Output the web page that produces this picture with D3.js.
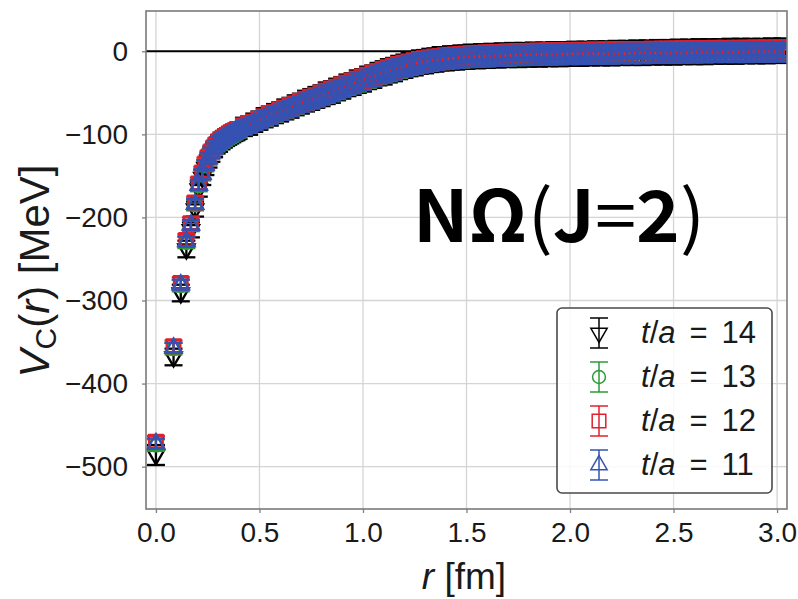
<!DOCTYPE html>
<html>
<head>
<meta charset="utf-8">
<script src="https://cdn.jsdelivr.net/npm/d3@7/dist/d3.min.js"></script>
<style>
  body { margin: 0; background: #ffffff; }
  svg { display: block; }
</style>
</head>
<body>
<svg id="chart" width="798" height="599"></svg>
<script>
// Central potential V_C(r) of the N-Omega system (J=2), four sink times t/a.

// Radial distances r [fm], shared by all sink times
const rValues = [
  0, 0.085, 0.120, 0.147, 0.169, 0.189, 0.207, 0.224, 0.239, 0.254,
  0.268, 0.281, 0.293, 0.305, 0.317, 0.328, 0.339, 0.349, 0.359, 0.369,
  0.379, 0.389, 0.399,
  0.425, 0.45, 0.475, 0.5, 0.525, 0.55, 0.575, 0.6, 0.625, 0.65,
  0.675, 0.7, 0.725, 0.75, 0.775, 0.8, 0.825, 0.85, 0.875, 0.9,
  0.925, 0.95, 0.975, 1.0, 1.025, 1.05, 1.075, 1.1, 1.125, 1.15,
  1.175, 1.2, 1.225, 1.25, 1.275, 1.3, 1.325, 1.35, 1.375, 1.4,
  1.425, 1.45, 1.475, 1.5, 1.525, 1.55, 1.575, 1.6, 1.625, 1.65,
  1.675, 1.7, 1.725, 1.75, 1.775, 1.8, 1.825, 1.85, 1.875, 1.9,
  1.925, 1.95, 1.975, 2.0, 2.025, 2.05, 2.075, 2.1, 2.125, 2.15,
  2.175, 2.2, 2.225, 2.25, 2.275, 2.3, 2.325, 2.35, 2.375, 2.4,
  2.425, 2.45, 2.475, 2.5, 2.525, 2.55, 2.575, 2.6, 2.625, 2.65,
  2.675, 2.7, 2.725, 2.75, 2.775, 2.8, 2.825, 2.85, 2.875, 2.9,
  2.925, 2.95, 2.975, 3.0, 3.025, 3.05
];

// t/a = 14
const vT14 = [
  -486, -368, -291, -238, -215, -190, -166, -152, -140, -131,
  -124, -118.5, -114, -111, -108, -106, -104, -102.5, -101, -99.5,
  -98, -97, -95.5,
  -91, -89.5, -86, -83.5, -80, -78, -75, -73, -70, -68,
  -65, -63, -60, -58, -55.5, -53.5, -50.5, -49, -46, -44,
  -41, -39.5, -36.5, -35, -32, -30.5, -27.5, -26, -23.5, -22,
  -19.5, -18, -16, -15, -13, -12.5, -11, -10.5, -9, -9,
  -8, -8, -7, -7, -6, -6.5, -5.5, -6, -5, -5.5,
  -4.5, -5, -4, -5, -4, -4.5, -3.5, -4.5, -3.5, -4,
  -3, -4, -3, -3.5, -2.5, -3.5, -2.5, -3, -2, -3,
  -2, -3, -1.5, -2.5, -1.5, -2.5, -1, -2.5, -1, -2,
  -0.5, -2, -0.5, -2, 0, -1.5, 0, -1.5, 0.5, -1.5,
  0.5, -1, 0.5, -1, 1, -1, 1, -0.5, 1, -0.5,
  1, -0.5, 1.5, 0, 1.5, 0
];
const eT14 = [
  12, 10, 10, 10, 9, 9, 9, 9, 9, 9,
  9, 9, 9, 10, 10, 10, 10, 10, 10, 10,
  10, 10, 10,
  11, 11, 11, 11, 11.5, 11.5, 11.5, 11.5, 12, 12,
  12, 12, 12.5, 12.5, 12.5, 12.5, 13, 13, 13, 13,
  13, 13, 13.5, 13.5, 13.5, 13.5, 13.5, 14, 14, 14,
  14, 14, 14, 14, 14, 14, 14, 14, 14, 14,
  14, 14, 14, 14, 14, 14, 14, 14, 14, 14,
  14, 14, 14, 14, 14, 14, 14, 14, 14, 14,
  14, 14, 14, 14, 14, 14, 14, 14, 14, 14,
  14, 14, 14, 14, 14, 14, 14, 14, 14, 14,
  14, 14, 14, 14, 14, 14, 14, 14, 14, 14,
  14, 14, 14, 14, 14, 14, 14, 14, 14, 14,
  14, 14, 14, 14, 14, 14
];

// t/a = 13
const vT13 = [
  -474, -358, -282, -230, -210, -185, -162, -149, -138, -130,
  -123, -118, -114, -111, -108.5, -106.5, -104.5, -103, -101.5, -100,
  -98.5, -97, -96,
  -91.5, -89, -86.5, -84, -81, -78.5, -76, -73.5, -71, -68.5,
  -66, -63.5, -61, -58.5, -56.5, -54, -51.5, -49.5, -47, -44.5,
  -42, -40, -37.5, -35.5, -33, -31, -28.5, -26.5, -24.5, -22.5,
  -20.5, -18.5, -17, -15.5, -14, -13, -12, -11, -10, -9.5,
  -9, -8.5, -8, -7.5, -7, -7, -6.5, -6.5, -6, -6,
  -5.5, -5.5, -5, -5, -5, -4.5, -4.5, -4.5, -4, -4,
  -4, -4, -3.5, -3.5, -3.5, -3.5, -3, -3, -3, -3,
  -3, -2.5, -2.5, -2.5, -2.5, -2.5, -2, -2, -2, -2,
  -2, -2, -1.5, -1.5, -1.5, -1.5, -1.5, -1.5, -1, -1,
  -1, -1, -1, -1, -1, -1, -0.5, -0.5, -0.5, -0.5,
  -0.5, -0.5, 0, 0, 0, 0
];
const eT13 = [
  7, 7, 7, 7, 6.5, 6.5, 6.5, 6.5, 6.5, 6.5,
  6.5, 6.5, 6.5, 7.5, 7.5, 7.5, 7.5, 7.5, 7.5, 7.5,
  7.5, 7.5, 7.5,
  8.5, 8.5, 8.5, 8.5, 9, 9, 9, 9, 9.5, 9.5,
  9.5, 9.5, 10, 10, 10, 10, 10.5, 10.5, 10.5, 10.5,
  10.5, 10.5, 11, 11, 11, 11, 11, 11.5, 11.5, 11.5,
  11.5, 11.5, 11.5, 11.5, 11.5, 11.5, 11.5, 11.5, 11.5, 11.5,
  11.5, 11.5, 11.5, 11.5, 11.5, 11.5, 11.5, 11.5, 11.5, 11.5,
  11.5, 11.5, 11.5, 11.5, 11.5, 11.5, 11.5, 11.5, 11.5, 11.5,
  11.5, 11.5, 11.5, 11.5, 11.5, 11.5, 11.5, 11.5, 11.5, 11.5,
  11.5, 11.5, 11.5, 11.5, 11.5, 11.5, 11.5, 11.5, 11.5, 11.5,
  11.5, 11.5, 11.5, 11.5, 11.5, 11.5, 11.5, 11.5, 11.5, 11.5,
  11.5, 11.5, 11.5, 11.5, 11.5, 11.5, 11.5, 11.5, 11.5, 11.5,
  11.5, 11.5, 11.5, 11.5, 11.5, 11.5
];

// t/a = 12
const vT12 = [
  -470, -355, -279, -227, -207, -182, -159, -146, -135, -127,
  -120.5, -115.5, -111.5, -108.5, -106, -104, -102, -100.5, -99, -97.5,
  -96, -95, -93.5,
  -90, -88, -85.5, -82, -79.5, -76.5, -74.5, -71.5, -69.5, -66.5,
  -64.5, -61.5, -59.5, -57, -55, -52, -50, -47.5, -45.5, -42.5,
  -40.5, -38, -36, -33.5, -31.5, -29, -27, -25, -23, -21,
  -19, -17.5, -16, -14.5, -13, -12, -11, -10, -9.5, -8.5,
  -8, -7.5, -7, -6.5, -6, -6, -5.5, -5, -5, -4.5,
  -4.5, -4, -4, -3.5, -3.5, -3.5, -3, -3, -3, -2.5,
  -2.5, -2.5, -2.5, -2, -2.5, -2, -2, -2, -1.5, -2,
  -1.5, -1.5, -1.5, -1, -1.5, -1, -1, -1, -1, -0.5,
  -1, -0.5, -0.5, -0.5, -0.5, 0, -0.5, 0, 0, 0,
  0, 0.5, 0, 0.5, 0, 0.5, 0.5, 0.5, 0.5, 1,
  0.5, 1, 0.5, 1, 1, 1
];
const eT12 = [
  7, 7, 7, 7, 7, 7, 7, 7, 7, 7,
  7, 7, 7, 8, 8, 8, 8, 8, 8, 8,
  8, 8, 8,
  9, 9, 9, 9, 9.5, 9.5, 9.5, 9.5, 10, 10,
  10, 10, 10.5, 10.5, 10.5, 10.5, 11, 11, 11, 11,
  11, 11, 11.5, 11.5, 11.5, 11.5, 11.5, 12, 12, 12,
  12, 12, 12, 12, 12, 12, 12, 12, 12, 12,
  12, 12, 12, 12, 12, 12, 12, 12, 12, 12,
  12, 12, 12, 12, 12, 12, 12, 12, 12, 12,
  12, 12, 12, 12, 12, 12, 12, 12, 12, 12,
  12, 12, 12, 12, 12, 12, 12, 12, 12, 12,
  12, 12, 12, 12, 12, 12, 12, 12, 12, 12,
  12, 12, 12, 12, 12, 12, 12, 12, 12, 12,
  12, 12, 12, 12, 12, 12
];

// t/a = 11
const vT11 = [
  -472, -357, -281, -229, -209, -184, -161, -148, -137, -129,
  -122, -117, -113, -110, -107.5, -105.5, -103.5, -102, -100.5, -99,
  -97.5, -96.5, -95,
  -92, -90, -86.5, -84.5, -80.5, -79, -75.5, -74, -70.5, -69,
  -65.5, -64, -60.5, -59.5, -56, -54.5, -51, -50, -46.5, -45,
  -41.5, -40.5, -37, -36, -32.5, -31.5, -28, -27, -24, -23,
  -20, -19, -16.5, -16, -13.5, -13.5, -11.5, -11.5, -9.5, -10,
  -8.5, -9, -7.5, -8, -6.5, -7.5, -6, -7, -5.5, -6.5,
  -5, -6, -4.5, -5.5, -4.5, -5.5, -4, -5, -3.5, -5,
  -3.5, -4.5, -3, -4.5, -3, -4.5, -3, -4, -2.5, -4,
  -2.5, -4, -2.5, -3.5, -2, -3.5, -2, -3.5, -2, -3,
  -1.5, -3, -1.5, -3, -1.5, -2.5, -1, -2.5, -1, -2.5,
  -1, -2, -1, -2, -0.5, -2, -0.5, -2, -0.5, -1.5,
  -0.5, -1.5, 0, -1.5, 0, -1
];
const eT11 = [
  6, 6, 6, 6, 6, 6, 6, 6, 6, 6,
  6, 6, 6, 7, 7, 7, 7, 7, 7, 7,
  7, 7, 7,
  8, 8, 8, 8, 8.5, 8.5, 8.5, 8.5, 9, 9,
  9, 9, 9.5, 9.5, 9.5, 9.5, 10, 10, 10, 10,
  10, 10, 10.5, 10.5, 10.5, 10.5, 10.5, 11, 11, 11,
  11, 11, 11, 11, 11, 11, 11, 11, 11, 11,
  11, 11, 11, 11, 11, 11, 11, 11, 11, 11,
  11, 11, 11, 11, 11, 11, 11, 11, 11, 11,
  11, 11, 11, 11, 11, 11, 11, 11, 11, 11,
  11, 11, 11, 11, 11, 11, 11, 11, 11, 11,
  11, 11, 11, 11, 11, 11, 11, 11, 11, 11,
  11, 11, 11, 11, 11, 11, 11, 11, 11, 11,
  11, 11, 11, 11, 11, 11
];

const seriesLabels = ["14", "13", "12", "11"];
const seriesColors = ["#000000", "#2a9a38", "#e0202c", "#3552b2"];
const seriesShapes = ["triangleDown", "circle", "square", "triangleUp"];

const xTicks = [0.0, 0.5, 1.0, 1.5, 2.0, 2.5, 3.0];
const yTicks = [0, -100, -200, -300, -400, -500];
const xDomain = [-0.048, 3.048];
const yDomain = [-551, 48.5];

const series = [
  { label: seriesLabels[0], v: vT14, e: eT14, color: seriesColors[0], shape: seriesShapes[0] },
  { label: seriesLabels[1], v: vT13, e: eT13, color: seriesColors[1], shape: seriesShapes[1] },
  { label: seriesLabels[2], v: vT12, e: eT12, color: seriesColors[2], shape: seriesShapes[2] },
  { label: seriesLabels[3], v: vT11, e: eT11, color: seriesColors[3], shape: seriesShapes[3] }
];

// ---- layout ----
const plot = { left: 146, top: 11, right: 787, bottom: 509 };
const svg = d3.select("#chart");
const sansFont = "'Liberation Sans', Arial, sans-serif";
const cjkFont = "'Noto Sans CJK JP', 'Noto Sans', sans-serif";

const x = d3.scaleLinear().domain(xDomain).range([plot.left, plot.right]);
const y = d3.scaleLinear().domain(yDomain).range([plot.bottom, plot.top]);

svg.append("defs").append("clipPath").attr("id", "plotClip")
  .append("rect")
  .attr("x", plot.left).attr("y", plot.top)
  .attr("width", plot.right - plot.left).attr("height", plot.bottom - plot.top);

// grid
const grid = svg.append("g");
grid.selectAll("line.vx").data(xTicks).join("line")
  .attr("x1", d => x(d)).attr("x2", d => x(d))
  .attr("y1", plot.top).attr("y2", plot.bottom)
  .attr("stroke", "#d4d4d4").attr("stroke-width", 1.3);
grid.selectAll("line.hy").data(yTicks).join("line")
  .attr("x1", plot.left).attr("x2", plot.right)
  .attr("y1", d => y(d)).attr("y2", d => y(d))
  .attr("stroke", "#d4d4d4").attr("stroke-width", 1.3);

// axes via d3 axis generators
const xAxis = d3.axisBottom(x).tickValues(xTicks).tickFormat(d3.format(".1f")).tickSizeOuter(0).tickSize(4).tickPadding(10);
const yAxis = d3.axisLeft(y).tickValues(yTicks).tickFormat(d => d < 0 ? "\u2212" + Math.abs(d) : String(d)).tickSizeOuter(0).tickSize(4).tickPadding(14);

const gx = svg.append("g").attr("transform", `translate(0,${plot.bottom})`).call(xAxis);
const gy = svg.append("g").attr("transform", `translate(${plot.left},0)`).call(yAxis);
[gx, gy].forEach(g => {
  g.select(".domain").remove();
  g.selectAll(".tick line").attr("stroke", "#808080").attr("stroke-width", 1.3);
  g.selectAll(".tick text").attr("fill", "#1a1a1a")
    .style("font-family", sansFont).style("font-size", "28px");
});
gx.selectAll(".tick text").attr("dy", "0.68em");

// zero line
svg.append("line")
  .attr("x1", plot.left).attr("x2", plot.right)
  .attr("y1", y(0)).attr("y2", y(0))
  .attr("stroke", "#000").attr("stroke-width", 2);

// data
const symbolSize = { triangleDown: 115, triangleUp: 115, circle: 130, square: 185 };
function markerPath(shape) {
  const type = shape === "circle" ? d3.symbolCircle : shape === "square" ? d3.symbolSquare : d3.symbolTriangle;
  return d3.symbol().type(type).size(symbolSize[shape])();
}
const capHalf = 9;
const lineW = 2.3;
const dataG = svg.append("g").attr("clip-path", "url(#plotClip)");

series.forEach(s => {
  const pts = rValues.map((r, i) => ({ r, v: s.v[i], e: s.e[i] }));
  const g = dataG.append("g");
  const path = markerPath(s.shape);
  const rot = s.shape === "triangleDown" ? 180 : 0;
  const pt = g.selectAll("g.pt").data(pts).join("g")
    .attr("transform", d => `translate(${x(d.r)},0)`);
  pt.append("line")
    .attr("x1", 0).attr("x2", 0)
    .attr("y1", d => y(d.v - d.e)).attr("y2", d => y(d.v + d.e))
    .attr("stroke", s.color).attr("stroke-width", lineW);
  pt.append("line")
    .attr("x1", -capHalf).attr("x2", capHalf)
    .attr("y1", d => y(d.v + d.e)).attr("y2", d => y(d.v + d.e))
    .attr("stroke", s.color).attr("stroke-width", lineW);
  pt.append("line")
    .attr("x1", -capHalf).attr("x2", capHalf)
    .attr("y1", d => y(d.v - d.e)).attr("y2", d => y(d.v - d.e))
    .attr("stroke", s.color).attr("stroke-width", lineW);
  pt.append("path")
    .attr("d", path)
    .attr("transform", d => `translate(0,${y(d.v)}) rotate(${rot})`)
    .attr("fill", "none").attr("stroke", s.color).attr("stroke-width", lineW);
});

// frame
svg.append("rect")
  .attr("x", plot.left).attr("y", plot.top)
  .attr("width", plot.right - plot.left).attr("height", plot.bottom - plot.top)
  .attr("fill", "none").attr("stroke", "#7a7a7a").attr("stroke-width", 1.6);

// axis labels
svg.append("text")
  .attr("x", 464).attr("y", 589)
  .attr("text-anchor", "middle")
  .style("font-family", sansFont).style("font-size", "37px").attr("fill", "#1a1a1a")
  .call(t => {
    t.append("tspan").style("font-style", "italic").text("r");
    t.append("tspan").text(" [fm]");
  });

svg.append("text")
  .attr("transform", "translate(49,271) rotate(-90)")
  .attr("text-anchor", "middle")
  .style("font-family", sansFont).style("font-size", "42px").attr("fill", "#1a1a1a")
  .call(t => {
    t.append("tspan").style("font-style", "italic").text("V");
    t.append("tspan").attr("dy", 7).style("font-size", "30px").text("C");
    t.append("tspan").attr("dy", -7).text("(");
    t.append("tspan").style("font-style", "italic").text("r");
    t.append("tspan").text(") [MeV]");
  });

// system label
svg.append("text")
  .attr("x", 413).attr("y", 242)
  .attr("textLength", 292).attr("lengthAdjust", "spacingAndGlyphs")
  .style("font-family", cjkFont)
  .style("font-size", "71px").attr("fill", "#000")
  .call(t => {
    t.append("tspan").style("font-weight", "bold").text("N\u03A9");
    t.append("tspan").style("font-weight", "normal").text("(");
    t.append("tspan").style("font-weight", "bold").text("J");
    t.append("tspan").style("font-weight", "normal").text("=");
    t.append("tspan").style("font-weight", "bold").text("2");
    t.append("tspan").style("font-weight", "normal").text(")");
  });

// legend
const legend = svg.append("g");
legend.append("rect")
  .attr("x", 557).attr("y", 308).attr("width", 215).attr("height", 185)
  .attr("rx", 5).attr("ry", 5)
  .attr("fill", "#ffffff").attr("fill-opacity", 0.85)
  .attr("stroke", "#4a4a4a").attr("stroke-width", 1.6);
const rowY = [333, 377, 421, 465];
series.forEach((s, i) => {
  const row = legend.append("g").attr("transform", `translate(599,${rowY[i]})`);
  row.append("line").attr("x1", 0).attr("x2", 0).attr("y1", -15).attr("y2", 15)
    .attr("stroke", s.color).attr("stroke-width", 1.5);
  [-15, 15].forEach(cy => row.append("line")
    .attr("x1", -capHalf).attr("x2", capHalf).attr("y1", cy).attr("y2", cy)
    .attr("stroke", s.color).attr("stroke-width", 1.5));
  row.append("path").attr("d", markerPath(s.shape))
    .attr("transform", s.shape === "triangleDown" ? "rotate(180)" : null)
    .attr("fill", "none").attr("stroke", s.color).attr("stroke-width", 1.5);
  const t = row.append("text").attr("x", 42).attr("y", 10)
    .style("font-family", sansFont).style("font-size", "31px").attr("fill", "#1a1a1a");
  t.append("tspan").style("font-style", "italic").text("t");
  t.append("tspan").text("/");
  t.append("tspan").style("font-style", "italic").text("a");
  t.append("tspan").attr("dx", 14).text("=");
  t.append("tspan").attr("dx", 14).text(s.label);
});
</script>
</body>
</html>
